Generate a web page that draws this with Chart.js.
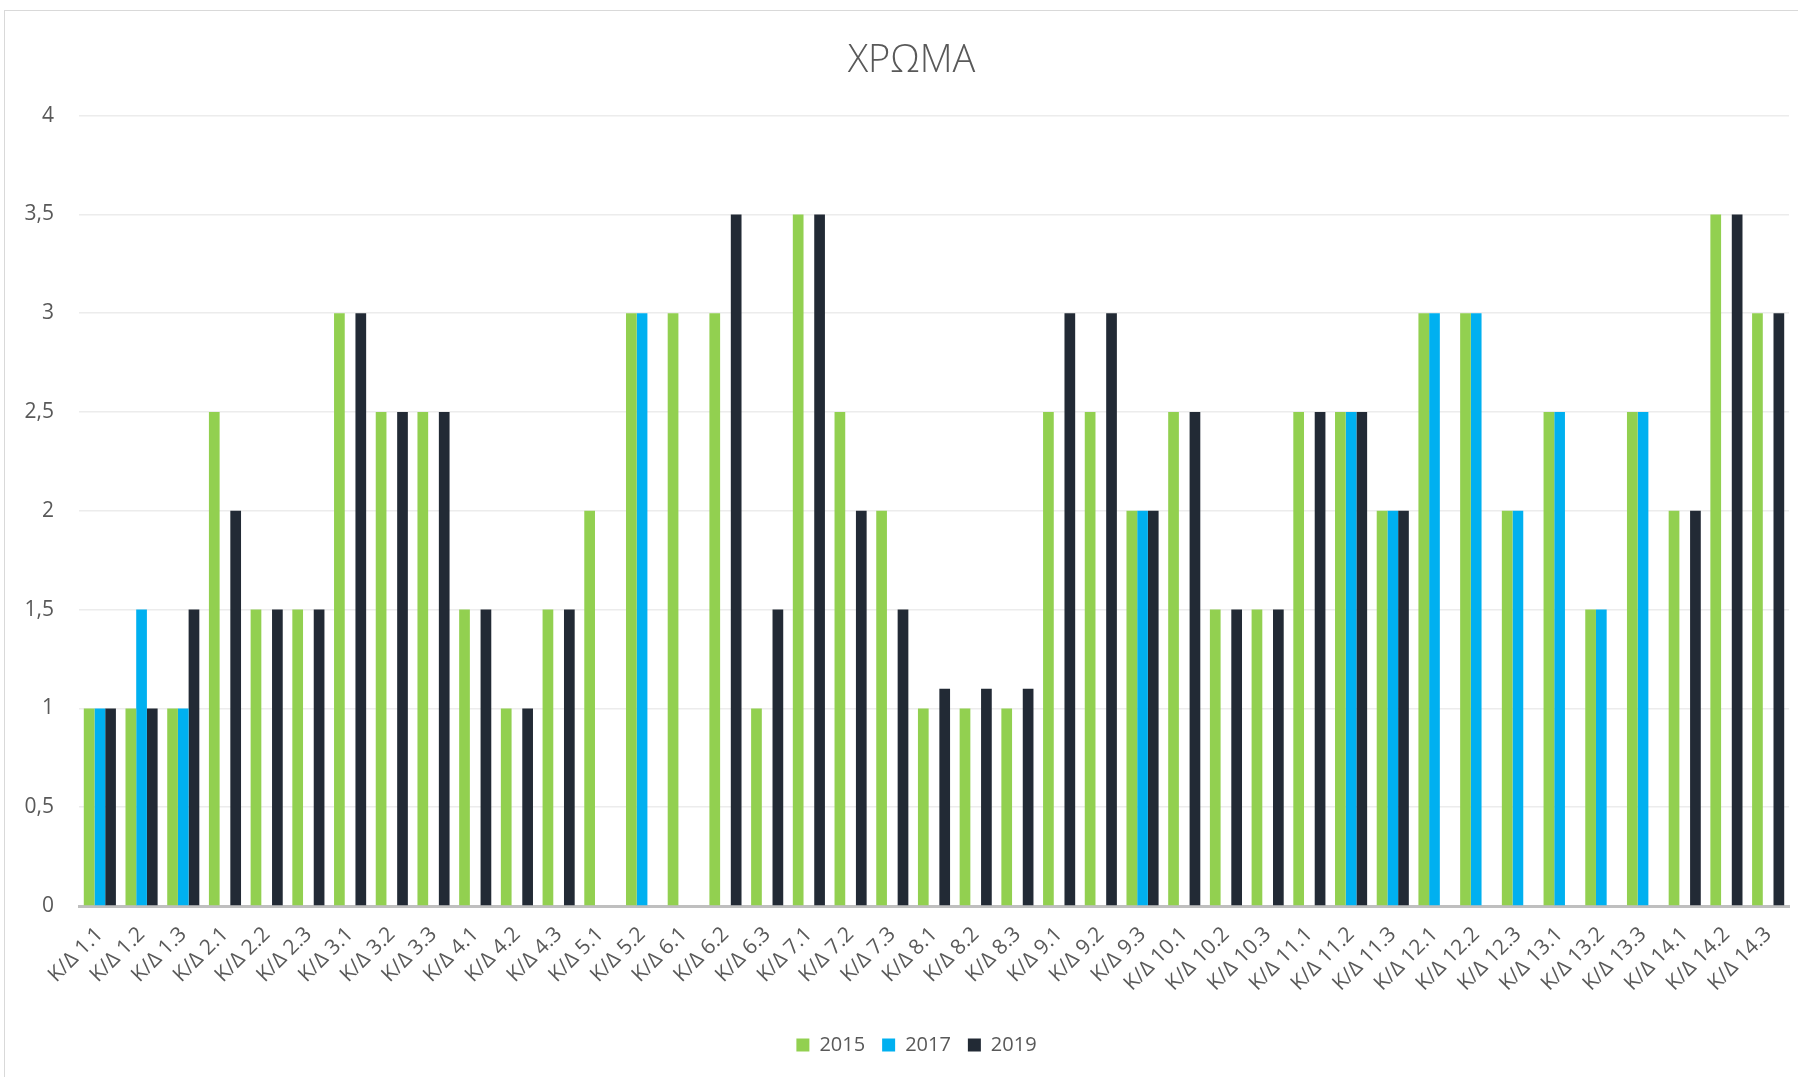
<!DOCTYPE html>
<html>
<head>
<meta charset="utf-8">
<script src="https://cdn.jsdelivr.net/npm/chart.js@4.4.1/dist/chart.umd.min.js"></script>
<style>
  html, body { margin: 0; padding: 0; background: #fff; overflow: hidden; }
  #frame { position: absolute; left: 4px; top: 10px; width: 1810px; height: 1080px; border: 1px solid #d9d9d9; box-sizing: border-box; }
  #wrap { position: absolute; left: 0; top: 0; width: 1798px; height: 1077px; }
</style>
</head>
<body>
<div id="frame"></div>
<div id="wrap"><canvas id="chart"></canvas></div>
<script>
// Categories (K/Δ = Κριτήριο / Δείκτης)
const categories = [
  'Κ/Δ 1.1', 'Κ/Δ 1.2', 'Κ/Δ 1.3', 'Κ/Δ 2.1', 'Κ/Δ 2.2', 'Κ/Δ 2.3',
  'Κ/Δ 3.1', 'Κ/Δ 3.2', 'Κ/Δ 3.3', 'Κ/Δ 4.1', 'Κ/Δ 4.2', 'Κ/Δ 4.3',
  'Κ/Δ 5.1', 'Κ/Δ 5.2', 'Κ/Δ 6.1', 'Κ/Δ 6.2', 'Κ/Δ 6.3', 'Κ/Δ 7.1',
  'Κ/Δ 7.2', 'Κ/Δ 7.3', 'Κ/Δ 8.1', 'Κ/Δ 8.2', 'Κ/Δ 8.3', 'Κ/Δ 9.1',
  'Κ/Δ 9.2', 'Κ/Δ 9.3', 'Κ/Δ 10.1', 'Κ/Δ 10.2', 'Κ/Δ 10.3', 'Κ/Δ 11.1',
  'Κ/Δ 11.2', 'Κ/Δ 11.3', 'Κ/Δ 12.1', 'Κ/Δ 12.2', 'Κ/Δ 12.3', 'Κ/Δ 13.1',
  'Κ/Δ 13.2', 'Κ/Δ 13.3', 'Κ/Δ 14.1', 'Κ/Δ 14.2', 'Κ/Δ 14.3'
];

// Series values (null = no bar)
const values2015 = [
  1, 1, 1, 2.5, 1.5, 1.5,
  3, 2.5, 2.5, 1.5, 1, 1.5,
  2, 3, 3, 3, 1, 3.5,
  2.5, 2, 1, 1, 1, 2.5,
  2.5, 2, 2.5, 1.5, 1.5, 2.5,
  2.5, 2, 3, 3, 2, 2.5,
  1.5, 2.5, 2, 3.5, 3
];
const values2017 = [
  1, 1.5, 1, null, null, null,
  null, null, null, null, null, null,
  null, 3, null, null, null, null,
  null, null, null, null, null, null,
  null, 2, null, null, null, null,
  2.5, 2, 3, 3, 2, 2.5,
  1.5, 2.5, null, null, null
];
const values2019 = [
  1, 1, 1.5, 2, 1.5, 1.5,
  3, 2.5, 2.5, 1.5, 1, 1.5,
  null, null, null, 3.5, 1.5, 3.5,
  2, 1.5, 1.1, 1.1, 1.1, 3,
  3, 2, 2.5, 1.5, 1.5, 2.5,
  2.5, 2, null, null, null, null,
  null, null, 2, 3.5, 3
];

// Y axis tick labels (comma decimal)
const tickLabels = ['0', '0,5', '1', '1,5', '2', '2,5', '3', '3,5', '4'];

const seriesNames = ['2015', '2017', '2019'];
const seriesColors = ['#92d050', '#00b0f0', '#222a35'];

const textColor = '#595959';
const fontFamily = "'Open Sans', 'Noto Sans', sans-serif";

// Build datasets
var seriesValues = [values2015, values2017, values2019];
var datasets = [];
for (let i = 0; i < seriesNames.length; i++) {
    datasets.push({
        label: seriesNames[i],
        data: seriesValues[i],
        backgroundColor: seriesColors[i],
        borderWidth: 0,
        categoryPercentage: 0.77,
        barPercentage: 1.0
    });
}

// Title and legend are centred over the plot area in the original, not over the whole canvas
const shiftBlocks = {
    id: 'shiftBlocks',
    afterLayout: function (chart) {
        chart.titleBlock.left += 17;
        chart.titleBlock.right += 17;
        chart.legend.left += 22;
        chart.legend.right += 22;
    }
};

var ctx = document.getElementById('chart').getContext('2d');
new Chart(ctx, {
    type: 'bar',
    data: { labels: categories, datasets: datasets },
    plugins: [shiftBlocks],
    options: {
        responsive: true,
        maintainAspectRatio: false,
        animation: false,
        layout: { padding: { left: 0, right: 9, top: 0, bottom: 12 } },
        plugins: {
            title: {
                display: true,
                text: 'ΧΡΩΜΑ',
                color: textColor,
                font: { family: "'Open Sans Light', " + fontFamily, size: 38, weight: '300' },
                padding: { top: 39, bottom: 31 }
            },
            legend: {
                position: 'bottom',
                labels: {
                    color: textColor,
                    font: { family: fontFamily, size: 20 },
                    boxWidth: 13,
                    boxHeight: 13,
                    padding: 17
                }
            },
            tooltip: { enabled: false }
        },
        scales: {
            x: {
                grid: { display: false },
                border: { display: true, color: '#bfbfbf', width: 3 },
                ticks: {
                    color: textColor,
                    font: { family: fontFamily, size: 21 },
                    maxRotation: 45,
                    minRotation: 45,
                    autoSkip: false,
                    padding: 8
                },
                afterFit: function (scale) { scale.height = 112; }
            },
            y: {
                min: 0,
                max: 4,
                border: { display: false },
                grid: { color: '#ececec', lineWidth: 1.5, drawTicks: false },
                ticks: {
                    stepSize: 0.5,
                    color: textColor,
                    font: { family: fontFamily, size: 21 },
                    padding: 25,
                    callback: function (value, index) { return tickLabels[index]; }
                },
                afterFit: function (scale) { scale.width = 79; }
            }
        }
    }
});
</script>
</body>
</html>
